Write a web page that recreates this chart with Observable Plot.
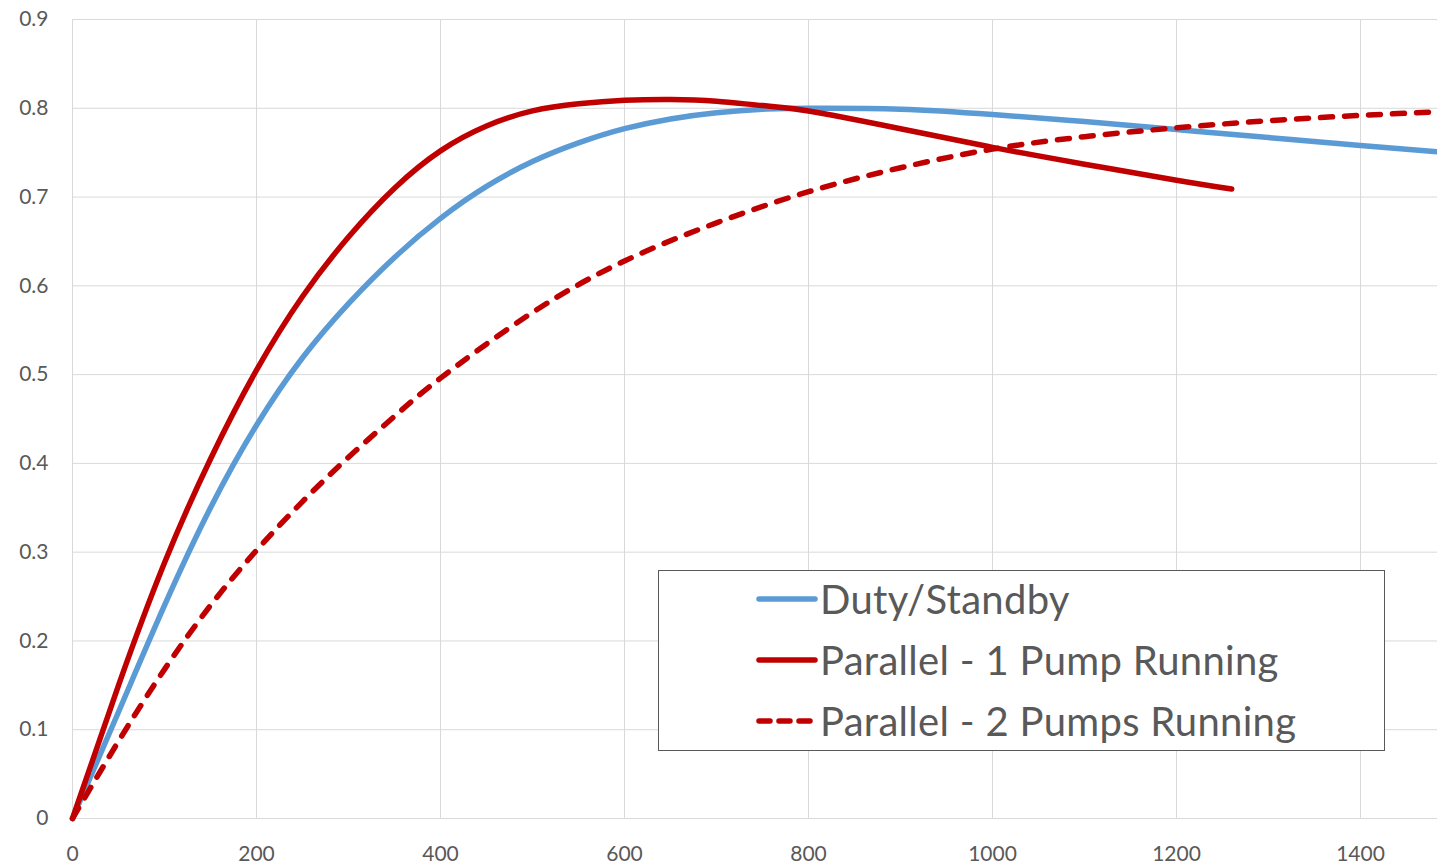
<!DOCTYPE html>
<html>
<head>
<meta charset="utf-8">
<script src="https://cdn.jsdelivr.net/npm/d3@7"></script>
<script src="https://cdn.jsdelivr.net/npm/@observablehq/plot@0.6"></script>
<style>
  html, body { margin: 0; padding: 0; background: #fff; }
  #wrap { position: relative; width: 1437px; height: 867px; overflow: hidden; font-family: Lato, "Open Sans", sans-serif; }
  #legend { position: absolute; left: 658px; top: 570px; width: 727px; height: 181px; border: 1.5px solid #595959; background: #fff; box-sizing: border-box; }
  .item { position: absolute; left: 97px; height: 44px; display: flex; align-items: center; font-size: 40px; letter-spacing: 0.3px; color: #595959; white-space: nowrap; }
  .item svg { margin-right: 2px; }
</style>
</head>
<body>
<div id="wrap"></div>
<script>
// ---- Data ----
const seriesNames = ["Duty/Standby", "Parallel - 1 Pump Running", "Parallel - 2 Pumps Running"];

const dutyX = [0, 50, 100, 150, 200, 250, 300, 350, 400, 450, 500, 550, 600, 650, 700, 750, 800, 900, 1000, 1100, 1200, 1300, 1400, 1484];
const dutyY = [0, 0.120, 0.240, 0.350, 0.443, 0.519, 0.580, 0.632, 0.676, 0.712, 0.740, 0.761, 0.777, 0.788, 0.795, 0.799, 0.800, 0.799, 0.793, 0.785, 0.776, 0.767, 0.758, 0.751];

const onePumpX = [0, 50, 100, 150, 200, 250, 300, 350, 400, 450, 500, 550, 600, 650, 700, 750, 800, 900, 1000, 1100, 1200, 1260];
const onePumpY = [0, 0.150, 0.288, 0.405, 0.505, 0.588, 0.655, 0.710, 0.752, 0.780, 0.797, 0.805, 0.809, 0.810, 0.808, 0.803, 0.797, 0.777, 0.756, 0.737, 0.719, 0.709];

const twoPumpX = [0, 50, 100, 150, 200, 250, 300, 350, 400, 500, 600, 700, 800, 900, 1000, 1100, 1200, 1300, 1400, 1484];
const twoPumpY = [0, 0.087, 0.168, 0.240, 0.302, 0.357, 0.407, 0.453, 0.496, 0.570, 0.628, 0.671, 0.706, 0.733, 0.754, 0.768, 0.778, 0.786, 0.792, 0.796];

const xTicks = [0, 200, 400, 600, 800, 1000, 1200, 1400];
const yTicks = [0, 0.1, 0.2, 0.3, 0.4, 0.5, 0.6, 0.7, 0.8, 0.9];
const yTickLabels = ["0", "0.1", "0.2", "0.3", "0.4", "0.5", "0.6", "0.7", "0.8", "0.9"];

const colors = ["#5B9BD5", "#C00000", "#C00000"];
const dashes = [null, null, "12,12"];

// ---- Build rows ----
const toRows = (xs, ys, name) => xs.map((x, i) => ({x, y: ys[i], series: name}));
const duty = toRows(dutyX, dutyY, seriesNames[0]);
const one = toRows(onePumpX, onePumpY, seriesNames[1]);
const two = toRows(twoPumpX, twoPumpY, seriesNames[2]);

const grid = "#d9d9d9";
const chart = Plot.plot({
  width: 1437,
  height: 867,
  marginLeft: 72,
  marginRight: 0,
  marginTop: 19,
  marginBottom: 49,
  style: { fontFamily: "Lato, 'Open Sans', sans-serif", fontSize: "21px", color: "#595959", background: "#fff" },
  x: { domain: [0, 1483.7], ticks: xTicks },
  y: { domain: [0, 0.9], ticks: yTicks },
  marks: [
    Plot.gridX(xTicks, { stroke: grid, strokeOpacity: 1, strokeWidth: 1 }),
    Plot.gridY(yTicks, { stroke: grid, strokeOpacity: 1, strokeWidth: 1 }),
    Plot.axisX(xTicks, { tickSize: 0, tickPadding: 28, fill: "#595959", fontSize: 21, label: null,
      tickFormat: d => String(d) }),
    Plot.axisY(yTicks, { tickSize: 0, tickPadding: 24, fill: "#595959", fontSize: 21, label: null,
      tickFormat: d => yTickLabels[yTicks.indexOf(d)] }),
    Plot.line(duty, { x: "x", y: "y", stroke: colors[0], strokeWidth: 5.5, curve: "natural", strokeLinecap: "round" }),
    Plot.line(two, { x: "x", y: "y", stroke: colors[2], strokeWidth: 5.5, curve: "natural", strokeDasharray: dashes[2], strokeLinecap: "round" }),
    Plot.line(one, { x: "x", y: "y", stroke: colors[1], strokeWidth: 5.5, curve: "natural", strokeLinecap: "round" })
  ]
});

const wrap = document.getElementById("wrap");
wrap.appendChild(chart);

// ---- Legend ----
const legend = document.createElement("div");
legend.id = "legend";
const tops = [6, 67, 128];
seriesNames.forEach((name, i) => {
  const item = document.createElement("div");
  item.className = "item";
  item.style.top = tops[i] + "px";
  const dash = dashes[i] ? `stroke-dasharray="11,9"` : "";
  item.innerHTML = `<svg width="62" height="10"><line x1="3" y1="5" x2="59" y2="5" stroke="${colors[i]}" stroke-width="5.5" stroke-linecap="round" ${dash}/></svg><span>${name}</span>`;
  legend.appendChild(item);
});
wrap.appendChild(legend);
</script>
</body>
</html>
